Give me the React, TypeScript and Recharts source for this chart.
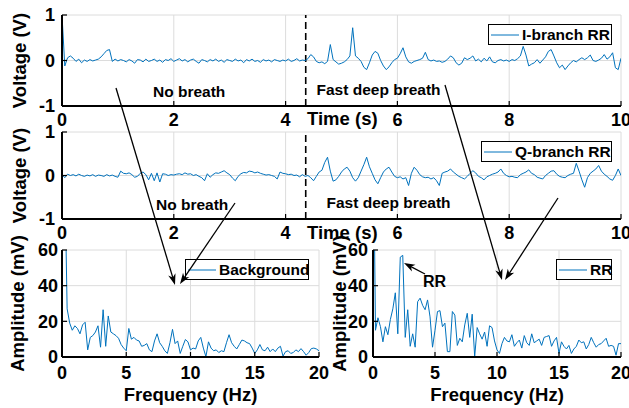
import React from "react";
import { LineChart, Line, XAxis, YAxis, CartesianGrid, ReferenceLine, Legend } from "recharts";

// sampling of the recordings
const timeStep = 0.05; // s
const freqStep = 0.2; // Hz
const breathOnset = 4.36; // s, dashed marker

const timeTicks = [0, 2, 4, 6, 8, 10];
const voltTicks = [-1, 0, 1];
const freqTicks = [0, 5, 10, 15, 20];
const ampTicks = [0, 20, 40, 60];

// I-branch voltage (V), one row per second
const iBranch = [
  1.0, -0.12, 0.06, 0.1, 0.05, -0.02, 0.03, -0.05, 0.01, -0.02, 0.02, -0.01, 0.01, 0.03, 0.08, 0.15, 0.22, 0.24, -0.02, 0.03,
  -0.01, 0.02, 0.0, -0.03, 0.02, -0.01, -0.06, 0.02, 0.01, -0.03, 0.03, -0.02, 0.0, 0.03, -0.02, 0.01, -0.04, 0.02, 0.0, 0.04,
  -0.02, 0.01, 0.04, -0.01, 0.02, -0.03, 0.01, 0.03, -0.02, -0.06, 0.02, 0.0, -0.03, 0.02, -0.01, 0.03, -0.02, 0.01, -0.04, 0.02,
  0.0, -0.02, 0.03, -0.01, 0.01, -0.05, 0.02, -0.01, 0.03, -0.02, 0.0, -0.04, 0.02, -0.01, 0.01, -0.03, 0.02, 0.0, -0.02, 0.01,
  -0.01, 0.03, -0.02, 0.0, 0.04, -0.01, 0.01, 0.0, 0.04, 0.13, 0.08, -0.02, -0.05, -0.03, -0.07, -0.02, 0.35, 0.02, -0.03, -0.08,
  -0.06, -0.03, 0.02, 0.1, 0.72, 0.1, 0.05, -0.02, -0.15, -0.2, -0.05, 0.12, 0.2, 0.16, 0.0, -0.12, -0.2, -0.14, -0.05, 0.02,
  0.05, 0.15, 0.28, 0.08, -0.03, -0.06, -0.02, 0.0, 0.02, 0.05, 0.18, 0.02, -0.01, 0.01, -0.02, -0.01, -0.04, -0.02, 0.03, 0.1,
  0.06, -0.05, -0.1, -0.06, 0.06, 0.02, 0.05, 0.1, -0.01, 0.03, -0.03, 0.05, -0.01, 0.08, -0.03, -0.05, 0.0, 0.02, -0.01, 0.01,
  -0.02, 0.02, 0.0, 0.04, 0.1, 0.31, 0.12, -0.12, -0.08, -0.05, 0.02, -0.06, 0.01, 0.08, 0.2, 0.24, 0.1, -0.05, -0.16, -0.1,
  -0.2, -0.12, -0.05, 0.0, -0.03, 0.02, 0.06, 0.02, 0.06, 0.12, 0.0, -0.02, 0.01, 0.05, 0.13, 0.03, 0.08, 0.17, -0.16, -0.2, 0.05,
];

// Q-branch voltage (V)
const qBranch = [
  0.02, -0.05, 0.03, 0.0, 0.02, -0.01, 0.03, 0.0, -0.02, 0.01, -0.01, 0.02, -0.02, 0.01, 0.0, -0.02, 0.02, -0.01, 0.01, -0.02,
  -0.04, 0.1, 0.05, 0.04, 0.06, 0.02, -0.04, -0.02, 0.05, 0.08, 0.02, -0.1, 0.05, -0.12, 0.06, -0.15, 0.04, 0.03, 0.0, 0.02,
  0.01, 0.03, 0.04, 0.02, 0.06, 0.03, 0.04, 0.0, 0.02, -0.02, -0.05, -0.12, 0.04, -0.04, 0.02, 0.06, 0.05, 0.08, 0.11, 0.06,
  0.02, -0.06, -0.12, -0.02, 0.04, 0.07, 0.06, 0.1, 0.09, 0.06, 0.08, 0.05, 0.03, 0.01, 0.02, 0.0, -0.02, -0.08, 0.08, 0.05,
  0.04, 0.02, 0.03, 0.0, 0.01, -0.03, 0.02, -0.02, 0.0, -0.05, -0.12, -0.02, 0.08, 0.12, 0.3, 0.42, 0.1, -0.13, -0.1, -0.02,
  0.08, 0.15, 0.19, 0.1, -0.05, -0.13, -0.05, 0.1, 0.25, 0.42, 0.2, 0.05, -0.1, -0.19, -0.05, 0.08, 0.15, 0.19, 0.08, -0.02,
  -0.05, -0.03, -0.08, -0.05, -0.23, 0.05, 0.19, 0.12, 0.02, -0.03, -0.05, -0.04, -0.08, -0.05, -0.12, -0.23, 0.05, 0.08, 0.1, 0.15,
  0.08, 0.03, -0.02, -0.05, -0.08, -0.02, 0.05, 0.11, 0.06, -0.02, -0.05, -0.1, -0.03, 0.0, 0.03, 0.05, 0.08, 0.15, 0.05, 0.0,
  -0.03, -0.02, -0.04, -0.05, 0.02, 0.05, 0.08, 0.13, 0.05, 0.02, -0.04, -0.06, -0.08, 0.0, 0.05, 0.1, 0.11, 0.03, -0.02, -0.04,
  -0.05, 0.0, 0.03, 0.05, 0.28, 0.1, -0.1, -0.27, -0.05, 0.05, 0.1, 0.15, 0.23, 0.1, 0.03, -0.02, -0.08, -0.11, 0.0, 0.15, 0.0,
];

// amplitude spectra (mV), one row per 2 Hz
const backgroundSpec = [
  150, 110, 27, 19, 15, 17.5, 16, 13, 18, 19.5,
  4, 11, 12, 14, 17.5, 5.5, 26.5, 6, 23, 14,
  13, 12, 10.5, 7, 5, 3.5, 16, 10, 11, 9.5,
  9, 6, 6.5, 7.5, 4, 3, 9, 13, 8, 6,
  3.5, 2, 8, 15.5, 7.5, 9, 2, 6, 9.8, 8.5,
  4, 5, 4.5, 9, 11, 5, 0.2, 8.5, 5, 3.5,
  4, 2.5, 3.5, 3, 8, 12.5, 8, 6, 4.5, 7,
  9.5, 9, 8, 7.5, 5, 2, 4, 7, 4, 3.5,
  5.5, 3, 4.5, 3, 5, 6, 0.5, 3, 3.5, 2,
  2.5, 4, 3, 4.7, 3, 1, 2.5, 4.7, 5, 4.5,
  3.5,
];

const rrSpec = [
  150, 15, 22, 17, 8.5, 17, 12.5, 21, 27, 36,
  13, 56, 57, 11, 26.5, 6, 13, 5.5, 31, 33,
  29, 26.5, 32, 22.5, 5.5, 15, 25.5, 26, 17, 19,
  3, 3, 25.5, 23.5, 6.5, 10.5, 8.5, 18, 24.5, 11,
  24, 0.2, 16.5, 13, 10, 14, 6, 17.5, 16.5, 9,
  4, 2, 7.5, 11, 9, 8.5, 12.5, 6, 8, 9.5,
  5, 12, 8, 6.5, 13, 8, 9, 10, 6.5, 11,
  11.5, 12, 6, 9, 11, 2, 8.5, 6, 4.5, 6.5,
  2, 4.5, 6, 9.5, 8, 8.5, 4.5, 7, 11, 8,
  5.5, 7, 7.5, 9, 10.5, 6, 6.5, 6, 1, 7.5,
  7.5,
];

const iData = iBranch.map((v, i) => ({ x: +(i * timeStep).toFixed(2), y: v }));
const qData = qBranch.map((v, i) => ({ x: +(i * timeStep).toFixed(2), y: v }));
const bgData = backgroundSpec.map((v, i) => ({ x: +(i * freqStep).toFixed(1), y: v }));
const rrData = rrSpec.map((v, i) => ({ x: +(i * freqStep).toFixed(1), y: v }));

const FONT = '"Liberation Sans", Arial, Helvetica, sans-serif';
const BLUE = "#0072BD";
const tickStyle = { fontSize: 18, fontWeight: 700, fill: "#000" };
const frame = { stroke: "#000", strokeWidth: 2 };
const tickMark = { stroke: "#000", strokeWidth: 1.2 };
const X_AXIS_H = 34;

function LegendBox({ label, width }: { label: string; width: number }) {
  return (
    <div
      style={{
        width,
        height: 21,
        boxSizing: "border-box",
        border: "1.5px solid #000",
        background: "#fff",
        display: "flex",
        alignItems: "center",
        fontFamily: FONT,
        fontWeight: 700,
        fontSize: 15.5,
        color: "#000",
        lineHeight: 1,
        whiteSpace: "nowrap",
      }}
    >
      <svg width={31} height={4} style={{ marginLeft: 2, flex: "none" }}>
        <line x1={0} y1={2} x2={28} y2={2} stroke={BLUE} strokeWidth={1} />
      </svg>
      <span>{label}</span>
    </div>
  );
}

interface PanelProps {
  data: { x: number; y: number }[];
  name: string;
  left: number;
  top: number;
  width: number;
  plotHeight: number;
  rightMargin: number;
  xDomain: [number, number];
  xTicks: number[];
  yDomain: [number, number];
  yTicks: number[];
  xTickMargin: number;
  yTickMargin: number;
  legendLeft: number;
  legendWidth: number;
  marker?: number;
}

function Panel(p: PanelProps) {
  return (
    <div style={{ position: "absolute", left: p.left, top: p.top }}>
      <LineChart
        width={p.width}
        height={15 + p.plotHeight + X_AXIS_H}
        data={p.data}
        margin={{ top: 15, right: p.rightMargin, bottom: 0, left: 0 }}
      >
        <CartesianGrid stroke="#dcdcdc" strokeWidth={1} />
        <XAxis
          dataKey="x"
          type="number"
          domain={p.xDomain}
          ticks={p.xTicks}
          interval={0}
          height={X_AXIS_H}
          tickSize={-5}
          tickMargin={p.xTickMargin}
          tick={tickStyle}
          axisLine={frame}
          tickLine={tickMark}
          allowDataOverflow
        />
        <XAxis
          xAxisId="top"
          orientation="top"
          type="number"
          domain={p.xDomain}
          ticks={p.xTicks}
          height={0}
          mirror
          tick={false}
          tickSize={5}
          axisLine={frame}
          tickLine={tickMark}
        />
        <YAxis
          type="number"
          domain={p.yDomain}
          ticks={p.yTicks}
          interval={0}
          width={62}
          tickSize={-5}
          tickMargin={p.yTickMargin}
          tick={tickStyle}
          axisLine={frame}
          tickLine={tickMark}
          allowDataOverflow
        />
        <YAxis
          yAxisId="right"
          orientation="right"
          type="number"
          domain={p.yDomain}
          ticks={p.yTicks}
          width={0}
          mirror
          tick={false}
          tickSize={5}
          axisLine={frame}
          tickLine={tickMark}
        />
        {p.marker !== undefined && (
          <ReferenceLine x={p.marker} stroke="#000" strokeWidth={1.6} strokeDasharray="7 4" />
        )}
        <Line
          dataKey="y"
          name={p.name}
          type="linear"
          stroke={BLUE}
          strokeWidth={1}
          dot={false}
          isAnimationActive={false}
        />
        <Legend
          layout="horizontal"
          verticalAlign="middle"
          align="center"
          wrapperStyle={{ left: p.legendLeft, top: 24, width: p.legendWidth }}
          content={() => <LegendBox label={p.name} width={p.legendWidth} />}
        />
      </LineChart>
    </div>
  );
}

function Arrow({ from, to }: { from: [number, number]; to: [number, number] }) {
  const [x1, y1] = from;
  const [x2, y2] = to;
  const a = Math.atan2(y2 - y1, x2 - x1);
  const c = Math.cos(a);
  const s = Math.sin(a);
  const len = 11;
  const half = 3.8;
  const bx = x2 - len * c;
  const by = y2 - len * s;
  const pts = [
    [x2, y2],
    [bx - s * half, by + c * half],
    [x2 - len * 0.72 * c, y2 - len * 0.72 * s],
    [bx + s * half, by - c * half],
  ]
    .map((q) => q.join(","))
    .join(" ");
  return (
    <g>
      <line x1={x1} y1={y1} x2={x2 - 4 * c} y2={y2 - 4 * s} stroke="#000" strokeWidth={1.3} />
      <polygon points={pts} fill="#000" />
    </g>
  );
}

const titleStyle = { fontSize: 18.5, fontWeight: 700, fill: "#000" } as const;
const noteStyle = { fontSize: 15.5, fontWeight: 700, fill: "#000" } as const;

export default function App() {
  return (
    <div
      style={{
        position: "relative",
        width: 629,
        height: 408,
        background: "#fff",
        fontFamily: FONT,
        overflow: "hidden",
      }}
    >
      <style>{"body{margin:0}"}</style>
      <Panel
        data={iData}
        name="I-branch RR"
        left={0}
        top={0}
        width={629}
        plotHeight={91}
        rightMargin={8}
        xDomain={[0, 10]}
        xTicks={timeTicks}
        yDomain={[-1, 1]}
        yTicks={voltTicks}
        xTickMargin={12}
        yTickMargin={12}
        legendLeft={488}
        legendWidth={124}
        marker={breathOnset}
      />
      <Panel
        data={qData}
        name="Q-branch RR"
        left={0}
        top={117}
        width={629}
        plotHeight={87}
        rightMargin={8}
        xDomain={[0, 10]}
        xTicks={timeTicks}
        yDomain={[-1, 1]}
        yTicks={voltTicks}
        xTickMargin={12}
        yTickMargin={12}
        legendLeft={481}
        legendWidth={131}
        marker={breathOnset}
      />
      <Panel
        data={bgData}
        name="Background"
        left={0}
        top={235}
        width={335}
        plotHeight={107}
        rightMargin={16}
        xDomain={[0, 20]}
        xTicks={freqTicks}
        yDomain={[0, 60]}
        yTicks={ampTicks}
        xTickMargin={14}
        yTickMargin={9}
        legendLeft={185}
        legendWidth={124}
      />
      <Panel
        data={rrData}
        name="RR"
        left={311}
        top={235}
        width={318}
        plotHeight={107}
        rightMargin={8}
        xDomain={[0, 20]}
        xTicks={freqTicks}
        yDomain={[0, 60]}
        yTicks={ampTicks}
        xTickMargin={14}
        yTickMargin={10}
        legendLeft={245}
        legendWidth={56}
      />

      <svg
        width={629}
        height={408}
        style={{ position: "absolute", left: 0, top: 0, pointerEvents: "none", fontFamily: FONT }}
      >
        {/* axis titles */}
        <text {...titleStyle} transform="translate(26,60.5) rotate(-90)" textAnchor="middle">Voltage (V)</text>
        <text {...titleStyle} transform="translate(26,175.5) rotate(-90)" textAnchor="middle">Voltage (V)</text>
        <text {...titleStyle} transform="translate(24,303.5) rotate(-90)" textAnchor="middle">Amplitude (mV)</text>
        <text {...titleStyle} transform="translate(346,303.5) rotate(-90)" textAnchor="middle">Amplitude (mV)</text>
        <text {...titleStyle} x={307} y={125}>Time (s)</text>
        <text {...titleStyle} x={307} y={238.5}>Time (s)</text>
        <text {...titleStyle} x={190.5} y={401} textAnchor="middle">Frequency (Hz)</text>
        <text {...titleStyle} x={497} y={401} textAnchor="middle">Frequency (Hz)</text>

        {/* annotations */}
        <text {...noteStyle} x={153} y={96.5}>No breath</text>
        <text {...noteStyle} x={316.5} y={94.5}>Fast deep breath</text>
        <text {...noteStyle} x={156} y={210}>No breath</text>
        <text {...noteStyle} x={326.5} y={207.5}>Fast deep breath</text>
        <text {...noteStyle} fontSize={16} x={423} y={287}>RR</text>

        <Arrow from={[116, 88]} to={[175, 285]} />
        <Arrow from={[235, 203]} to={[180, 284]} />
        <Arrow from={[445, 85]} to={[502, 280]} />
        <Arrow from={[558, 198]} to={[505, 280]} />
        <Arrow from={[425, 274]} to={[404, 263]} />
      </svg>
    </div>
  );
}
